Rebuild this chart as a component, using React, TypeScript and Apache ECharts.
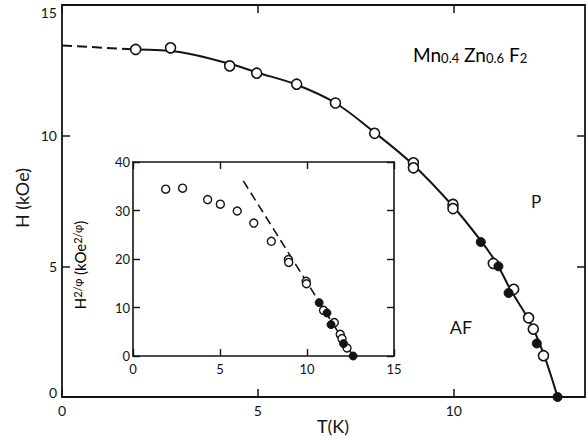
import React, { useEffect, useRef } from "react";
import * as echarts from "echarts";

// ---- tick values ----
const mainTicksT = [0, 5, 10];
const mainTicksH = [0, 5, 10, 15];
const insetTicksT = [0, 5, 10, 15];
const insetTicksY = [0, 10, 20, 30, 40];

// ---- main panel: H (kOe) vs T (K) ----
const mainOpenT = [1.88, 2.77, 4.28, 4.97, 5.99, 6.98, 7.98, 8.97, 8.97, 9.98, 9.98, 11.01, 11.53, 11.91, 12.03, 12.29];
const mainOpenH = [13.3, 13.36, 12.67, 12.39, 11.97, 11.25, 10.09, 8.96, 8.77, 7.37, 7.21, 5.11, 4.12, 3.03, 2.6, 1.58];
const mainClosedT = [10.69, 11.14, 11.4, 12.12, 12.65];
const mainClosedH = [5.93, 5.0, 3.98, 2.05, 0];
const fitT = [1.88, 3.0, 4.28, 4.97, 5.99, 6.98, 7.98, 8.97, 9.98, 10.69, 11.1, 11.45, 11.95, 12.3, 12.65];
const fitH = [13.3, 13.2, 12.75, 12.42, 11.95, 11.25, 10.12, 8.88, 7.3, 5.98, 5.1, 4.1, 2.85, 1.62, 0];
const extrapT = [0, 1.88];
const extrapH = [13.45, 13.3];

// ---- inset: H^(2/phi) vs T ----
const insetOpenT = [1.88, 2.85, 4.29, 5.02, 5.99, 6.94, 7.95, 8.93, 8.95, 9.95, 9.97, 10.95, 11.57, 11.91, 12.01, 12.3];
const insetOpenY = [34.4, 34.6, 32.25, 31.3, 29.9, 27.4, 23.65, 19.9, 19.3, 15.4, 14.9, 9.42, 6.89, 4.47, 3.59, 1.65];
const insetClosedT = [10.7, 11.15, 11.38, 12.1, 12.65];
const insetClosedY = [11.0, 8.87, 6.47, 2.56, 0];
const insetLineT = [6.34, 12.65];
const insetLineY = [36.1, 0];

const zip = (a: number[], b: number[]) => a.map((v, i) => [v, b[i]]);

const INK = "#141414";
const FONT = "Lato";

export default function App() {
  const ref = useRef<HTMLDivElement>(null);

  useEffect(() => {
    document.body.style.margin = "0";
    if (!ref.current) return;
    const chart = echarts.init(ref.current, null, { renderer: "svg" });

    const axisLine = { show: true, onZero: false, lineStyle: { color: INK, width: 1.8 } };
    const mainLabel = { color: INK, fontSize: 14, fontFamily: FONT };
    const insetLabel = { color: INK, fontSize: 13, fontFamily: FONT };

    const option: any = {
      animation: false,
      backgroundColor: "#ffffff",
      grid: [
        { left: 62, right: 3, top: 5, bottom: 42 },
        { left: 133, right: 194, top: 162, bottom: 83, show: true, backgroundColor: "#ffffff", borderWidth: 0 },
      ],
      xAxis: [
        {
          gridIndex: 0, type: "value", min: 0, max: 13.35, position: "bottom",
          axisLine, splitLine: { show: false },
          axisTick: { inside: true, length: 8, customValues: mainTicksT, lineStyle: { color: INK, width: 1.5 } },
          axisLabel: { ...mainLabel, margin: 6, customValues: mainTicksT },
        },
        {
          gridIndex: 0, type: "value", min: 0, max: 13.35, position: "top",
          axisLine, splitLine: { show: false },
          axisTick: { inside: true, length: 8, customValues: mainTicksT, lineStyle: { color: INK, width: 1.5 } },
          axisLabel: { show: false },
        },
        {
          gridIndex: 1, type: "value", min: 0, max: 15, position: "bottom",
          axisLine: { ...axisLine, lineStyle: { color: INK, width: 1.6 } }, splitLine: { show: false },
          axisTick: { inside: true, length: 7, customValues: insetTicksT, lineStyle: { color: INK, width: 1.4 } },
          axisLabel: { ...insetLabel, margin: 6, customValues: insetTicksT },
        },
        {
          gridIndex: 1, type: "value", min: 0, max: 15, position: "top",
          axisLine: { ...axisLine, lineStyle: { color: INK, width: 1.6 } }, splitLine: { show: false },
          axisTick: { inside: true, length: 7, customValues: insetTicksT, lineStyle: { color: INK, width: 1.4 } },
          axisLabel: { show: false },
        },
      ],
      yAxis: [
        {
          gridIndex: 0, type: "value", min: 0, max: 15, position: "left",
          axisLine, splitLine: { show: false },
          axisTick: { inside: true, length: 8, customValues: mainTicksH, lineStyle: { color: INK, width: 1.5 } },
          axisLabel: {
            ...mainLabel, margin: 5, customValues: mainTicksH,
            formatter: (v: number) => (v === 15 ? "{t|15}" : v === 0 ? "{b|0}" : String(v)),
            rich: {
              t: { fontSize: 14, fontFamily: FONT, color: INK, padding: [14, 0, 0, 0] },
              b: { fontSize: 14, fontFamily: FONT, color: INK, padding: [0, 0, 10, 0] },
            },
          },
        },
        {
          gridIndex: 0, type: "value", min: 0, max: 15, position: "right",
          axisLine, splitLine: { show: false },
          axisTick: { inside: true, length: 8, customValues: mainTicksH, lineStyle: { color: INK, width: 1.5 } },
          axisLabel: { show: false },
        },
        {
          gridIndex: 1, type: "value", min: 0, max: 40, position: "left",
          axisLine: { ...axisLine, lineStyle: { color: INK, width: 1.6 } }, splitLine: { show: false },
          axisTick: { inside: true, length: 7, customValues: insetTicksY, lineStyle: { color: INK, width: 1.4 } },
          axisLabel: { ...insetLabel, margin: 3, customValues: insetTicksY },
        },
        {
          gridIndex: 1, type: "value", min: 0, max: 40, position: "right",
          axisLine: { ...axisLine, lineStyle: { color: INK, width: 1.6 } }, splitLine: { show: false },
          axisTick: { inside: true, length: 7, customValues: insetTicksY, lineStyle: { color: INK, width: 1.4 } },
          axisLabel: { show: false },
        },
      ],
      series: [
        {
          type: "line", xAxisIndex: 0, yAxisIndex: 0, data: zip(extrapT, extrapH),
          showSymbol: false, lineStyle: { color: INK, width: 2, type: [10, 5] }, z: 2,
        },
        {
          type: "line", xAxisIndex: 0, yAxisIndex: 0, data: zip(fitT, fitH), smooth: 0.35,
          showSymbol: false, lineStyle: { color: INK, width: 2 }, z: 2,
        },
        {
          type: "scatter", xAxisIndex: 0, yAxisIndex: 0, data: zip(mainOpenT, mainOpenH),
          symbol: "circle", symbolSize: 10, clip: false,
          itemStyle: { color: "#ffffff", borderColor: INK, borderWidth: 1.6, opacity: 1 }, z: 3,
        },
        {
          type: "scatter", xAxisIndex: 0, yAxisIndex: 0, data: zip(mainClosedT, mainClosedH),
          symbol: "circle", symbolSize: 9, clip: false,
          itemStyle: { color: INK, borderColor: INK, borderWidth: 1, opacity: 1 }, z: 4,
        },
        {
          type: "line", xAxisIndex: 2, yAxisIndex: 2, data: zip(insetLineT, insetLineY),
          showSymbol: false, lineStyle: { color: INK, width: 1.6, type: [9, 5] }, z: 5,
        },
        {
          type: "scatter", xAxisIndex: 2, yAxisIndex: 2, data: zip(insetOpenT, insetOpenY),
          symbol: "circle", symbolSize: 8, clip: false,
          itemStyle: { color: "#ffffff", borderColor: INK, borderWidth: 1.4, opacity: 1 }, z: 6,
        },
        {
          type: "scatter", xAxisIndex: 2, yAxisIndex: 2, data: zip(insetClosedT, insetClosedY),
          symbol: "circle", symbolSize: 8, clip: false,
          itemStyle: { color: INK, borderColor: INK, borderWidth: 1, opacity: 1 }, z: 7,
        },
      ],
      graphic: [
        {
          type: "text", x: 413, y: 44, z: 10,
          style: {
            text: "{m|Mn}{s|0.4}{m| Zn}{s|0.6}{m| F}{s|2}",
            textAlign: "left", textVerticalAlign: "middle",
            rich: {
              m: { fontSize: 19, fontFamily: FONT, color: INK, lineHeight: 20, verticalAlign: "bottom" },
              s: { fontSize: 13, fontFamily: FONT, color: INK, lineHeight: 40, verticalAlign: "bottom" },
            },
          },
        },
        {
          type: "text", x: 536, y: 201, z: 10,
          style: { text: "P", fontSize: 17, fontFamily: FONT, fill: INK, textAlign: "center", textVerticalAlign: "middle" },
        },
        {
          type: "text", x: 461, y: 327, z: 10,
          style: { text: "AF", fontSize: 18, fontFamily: FONT, fill: INK, textAlign: "center", textVerticalAlign: "middle" },
        },
        {
          type: "text", x: 333, y: 426, z: 10,
          style: { text: "T(K)", fontSize: 18, fontFamily: FONT, fill: INK, textAlign: "center", textVerticalAlign: "middle" },
        },
        {
          type: "text", x: 22, y: 198, rotation: Math.PI / 2, z: 10,
          style: { text: "H (kOe)", fontSize: 18, fontFamily: FONT, fill: INK, textAlign: "center", textVerticalAlign: "middle" },
        },
        {
          type: "text", x: 91, y: 265, rotation: Math.PI / 2, z: 10,
          style: {
            text: "{m|H}{s|2/φ}{m| (kOe}{s|2/φ}{m|)}",
            textAlign: "center", textVerticalAlign: "middle",
            rich: {
              m: { fontSize: 15, fontFamily: FONT, color: INK, lineHeight: 20, verticalAlign: "top" },
              s: { fontSize: 11, fontFamily: FONT, color: INK, lineHeight: 38, verticalAlign: "top" },
            },
          },
        },
      ],
    };

    chart.setOption(option);
    return () => chart.dispose();
  }, []);

  return <div ref={ref} style={{ width: 588, height: 439 }} />;
}
